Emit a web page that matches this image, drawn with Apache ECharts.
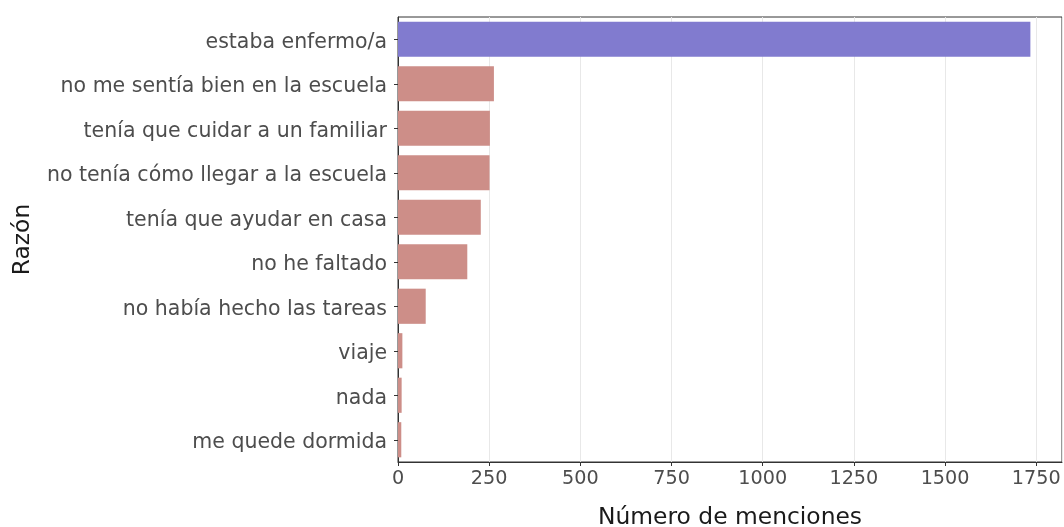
<!DOCTYPE html>
<html>
<head>
<meta charset="utf-8">
<script src="https://cdn.jsdelivr.net/npm/echarts@6/dist/echarts.min.js"></script>
<style>html,body{margin:0;padding:0;background:#fff;}#c{width:1064px;height:527px;}</style>
</head>
<body>
<div id="c"></div>
<script>
const categories = ["estaba enfermo/a","no me sentía bien en la escuela","tenía que cuidar a un familiar","no tenía cómo llegar a la escuela","tenía que ayudar en casa","no he faltado","no había hecho las tareas","viaje","nada","me quede dormida"];
const values = [1734, 263, 252, 251, 227, 190, 76, 12, 10, 9];
const highlight = [true, false, false, false, false, false, false, false, false, false];
const xTicks = [0, 250, 500, 750, 1000, 1250, 1500, 1750];

const FONT = "DejaVu Sans";
const chart = echarts.init(document.getElementById('c'), null, {renderer:'canvas'});
chart.setOption({
  animation:false,
  textStyle:{fontFamily:FONT},
  grid:{left:398,right:2,top:17,bottom:65,containLabel:false,outerBoundsMode:'none',show:true,borderColor:'#333',borderWidth:1,backgroundColor:'transparent'},
  xAxis:{
    type:'value', min:0, max:Math.max(...values)*1.05, interval:250,
    name:'Número de menciones', nameLocation:'middle', nameGap:44,
    nameTextStyle:{fontFamily:FONT,fontSize:23.4,color:'#1a1a1a'},
    axisLine:{show:true,lineStyle:{color:'#333',width:1}},
    axisTick:{show:true,length:4,lineStyle:{color:'#333'}},
    splitLine:{show:true,lineStyle:{color:'#e8e8e8',width:1}},
    axisLabel:{fontFamily:FONT,fontSize:19.2,color:'#4d4d4d',margin:8,showMaxLabel:false,
      formatter:function(v){return xTicks.indexOf(v)>=0?String(v):'';}}
  },
  yAxis:{
    type:'category', inverse:true, data:categories,
    name:'Razón', nameLocation:'middle', nameGap:364, nameRotate:90,
    nameTextStyle:{fontFamily:FONT,fontSize:23.4,color:'#1a1a1a'},
    axisLine:{show:true,lineStyle:{color:'#333',width:1}},
    axisTick:{show:true,length:4,alignWithLabel:true,lineStyle:{color:'#333'}},
    splitLine:{show:false},
    axisLabel:{fontFamily:FONT,fontSize:20.5,color:'#4d4d4d',margin:11,
      formatter:function(v){return '{t|'+v+'}';},
      rich:{t:{fontFamily:FONT,fontSize:20.5,color:'#4d4d4d',padding:[6,0,0,0]}}}
  },
  series:[{
    type:'bar', barWidth:'79%',
    data:values.map((v,i)=>({value:v,itemStyle:{color:highlight[i]?'#817bcf':'#cd8e88'}}))
  }]
});
</script>
</body>
</html>
